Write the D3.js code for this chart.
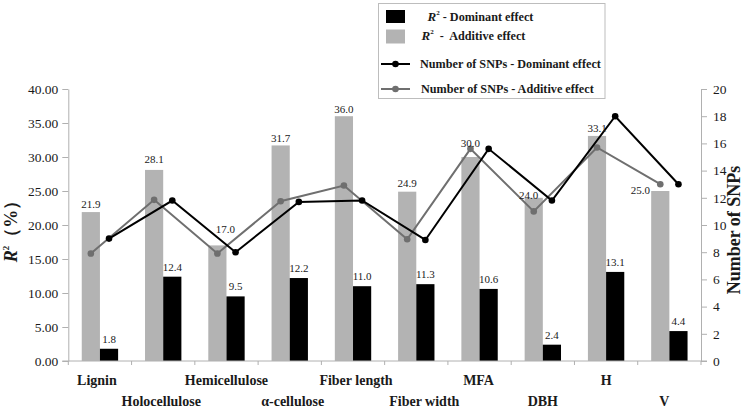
<!DOCTYPE html>
<html>
<head>
<meta charset="utf-8">
<script src="https://cdn.jsdelivr.net/npm/d3@7"></script>
<style>
  html, body { margin: 0; padding: 0; background: #fff; }
</style>
</head>
<body>
<svg id="chart" width="750" height="410"></svg>
<script>
const categories = ["Lignin", "Holocellulose", "Hemicellulose", "α-cellulose", "Fiber length", "Fiber width", "MFA", "DBH", "H", "V"];
const r2Dominant = [1.8, 12.4, 9.5, 12.2, 11.0, 11.3, 10.6, 2.4, 13.1, 4.4];
const r2Additive = [21.9, 28.1, 17.0, 31.7, 36.0, 24.9, 30.0, 24.0, 33.1, 25.0];
const snpDominant = [9.0, 11.8, 8.0, 11.7, 11.8, 8.9, 15.6, 11.8, 18.0, 13.0];
const snpAdditive = [7.9, 11.85, 7.9, 11.75, 12.9, 8.95, 15.6, 11.0, 15.7, 13.0];
const leftTicks = [0, 5, 10, 15, 20, 25, 30, 35, 40];
const rightTicks = [0, 2, 4, 6, 8, 10, 12, 14, 16, 18, 20];
const seriesNames = ["Dominant effect", "Additive effect"];

const FONT = "'Liberation Serif', 'Tinos', 'Times New Roman', 'DejaVu Serif', serif";
const svg = d3.select("#chart").attr("font-family", FONT).style("font-family", FONT);
const X0 = 68.3, X1 = 701, Y0 = 361, Y1 = 89;
const AXIS = "#b0b0b0", TXT = "#1a1a1a";
const GREY_BAR = "#b3b3b3", GREY_LINE = "#6f6f6f";

const x = d3.scaleBand().domain(categories).range([X0, X1]).padding(0);
const sub = d3.scaleBand().domain(["add", "dom"]).range([0, x.bandwidth()]).paddingInner(0).paddingOuter(0.74);
const yL = d3.scaleLinear().domain([0, 40]).range([Y0, Y1]);
const yR = d3.scaleLinear().domain([0, 20]).range([Y0, Y1]);

// bars
const g = svg.append("g");
g.selectAll("rect.add").data(categories).join("rect")
  .attr("x", d => x(d) + sub("add")).attr("width", sub.bandwidth())
  .attr("y", (d, i) => yL(r2Additive[i])).attr("height", (d, i) => Y0 - yL(r2Additive[i]))
  .attr("fill", GREY_BAR);
g.selectAll("rect.dom").data(categories).join("rect")
  .attr("x", d => x(d) + sub("dom")).attr("width", sub.bandwidth())
  .attr("y", (d, i) => yL(r2Dominant[i])).attr("height", (d, i) => Y0 - yL(r2Dominant[i]))
  .attr("fill", "#000");

// axes
function styleAxis(sel) {
  sel.attr("font-family", FONT);
  sel.selectAll("path, line").attr("stroke", AXIS);
  sel.selectAll("text").attr("fill", TXT).style("font-size", "13.5px").style("font-family", FONT);
}
svg.append("g").attr("transform", `translate(${X0},0)`)
  .call(d3.axisLeft(yL).tickValues(leftTicks).tickFormat(d3.format(".2f")).tickSize(6).tickSizeOuter(0).tickPadding(4))
  .call(styleAxis);
svg.append("g").attr("transform", `translate(${X1},0)`)
  .call(d3.axisRight(yR).tickValues(rightTicks).tickSize(6).tickSizeOuter(0).tickPadding(6))
  .call(styleAxis);

// x axis baseline with category boundary ticks
const xa = svg.append("g");
xa.append("line").attr("x1", X0 - 6).attr("x2", X1 + 6).attr("y1", Y0).attr("y2", Y0).attr("stroke", AXIS);
const bounds = categories.map(c => x(c)).concat([X1]);
xa.selectAll("line.tk").data(bounds).join("line")
  .attr("x1", d => d).attr("x2", d => d).attr("y1", Y0).attr("y2", Y0 + 4).attr("stroke", AXIS);

// category labels (staggered rows)
const catNudge = [-3, -2, 0, 3, 3, 8, -1, 0, 0, -5];
svg.append("g").selectAll("text").data(categories).join("text")
  .attr("x", (d, i) => x(d) + x.bandwidth() / 2 + catNudge[i])
  .attr("y", (d, i) => (i % 2 === 0 ? 385 : 406))
  .attr("text-anchor", "middle").attr("fill", TXT)
  .style("font-size", "14px").style("font-weight", "bold").style("font-family", FONT)
  .text(d => d);

// lines
const cxAdd = i => x(categories[i]) + sub("add") + sub.bandwidth() / 2;
const cxDom = i => x(categories[i]) + sub("dom") + sub.bandwidth() / 2;
const lineAdd = d3.line().x((d, i) => cxAdd(i)).y(d => yR(d));
const lineDom = d3.line().x((d, i) => cxDom(i)).y(d => yR(d));
svg.append("path").attr("d", lineAdd(snpAdditive)).attr("fill", "none").attr("stroke", GREY_LINE).attr("stroke-width", 2);
svg.append("g").selectAll("circle").data(snpAdditive).join("circle")
  .attr("cx", (d, i) => cxAdd(i)).attr("cy", d => yR(d)).attr("r", 3.3).attr("fill", GREY_LINE);
svg.append("path").attr("d", lineDom(snpDominant)).attr("fill", "none").attr("stroke", "#000").attr("stroke-width", 2);
svg.append("g").selectAll("circle").data(snpDominant).join("circle")
  .attr("cx", (d, i) => cxDom(i)).attr("cy", d => yR(d)).attr("r", 3.3).attr("fill", "#000");

// value labels
const addNudge = [[0, -4], [0, -7], [8, -12], [0, -3.5], [0, -3.5], [0, -4.5], [0, -10.5], [-5, 1], [0, -4], [-20, 2.5]];
svg.append("g").selectAll("text").data(r2Additive).join("text")
  .attr("x", (d, i) => cxAdd(i) + addNudge[i][0])
  .attr("y", (d, i) => yL(d) + addNudge[i][1])
  .attr("text-anchor", "middle").attr("fill", TXT).style("font-size", "11px").style("font-family", FONT)
  .text(d => d.toFixed(1));
svg.append("g").selectAll("text").data(r2Dominant).join("text")
  .attr("x", (d, i) => cxDom(i))
  .attr("y", d => yL(d) - 6)
  .attr("text-anchor", "middle").attr("fill", TXT).style("font-size", "11px").style("font-family", FONT)
  .text(d => d.toFixed(1));

// axis titles
const lt = svg.append("text").attr("transform", "translate(17,227) rotate(-90)")
  .attr("text-anchor", "middle").attr("fill", TXT)
  .style("font-size", "18px").style("font-weight", "bold").style("font-family", FONT);
lt.append("tspan").style("font-style", "italic").text("R");
lt.append("tspan").attr("dy", -8).style("font-size", "9px").text("2");
lt.append("tspan").attr("dy", 8).text("（%）");

svg.append("text").attr("transform", "translate(740,230) rotate(-90)")
  .attr("text-anchor", "middle").attr("fill", TXT)
  .style("font-size", "18px").style("font-weight", "bold").style("font-family", FONT)
  .text("Number of SNPs");

// legend
const lg = svg.append("g");
lg.append("rect").attr("x", 378.5).attr("y", 3.5).attr("width", 226.5).attr("height", 95)
  .attr("fill", "#fff").attr("stroke", "#bdbdbd");
lg.append("rect").attr("x", 386).attr("y", 10).attr("width", 19).attr("height", 13).attr("fill", "#000");
lg.append("rect").attr("x", 386).attr("y", 29.5).attr("width", 19).attr("height", 14).attr("fill", GREY_BAR);
function r2Label(xp, yp, sep, name) {
  const t = lg.append("text").attr("x", xp).attr("y", yp).attr("fill", TXT)
    .style("font-size", "12.2px").style("font-weight", "bold").style("font-family", FONT)
    .style("white-space", "pre");
  t.append("tspan").style("font-style", "italic").style("font-size", "13px").text("R");
  t.append("tspan").attr("dy", -6).style("font-size", "7px").text("2");
  t.append("tspan").attr("dy", 6).text(sep + name);
}
r2Label(427.5, 21, " - ", seriesNames[0]);
r2Label(421.5, 40, "  -  ", seriesNames[1]);
lg.append("line").attr("x1", 381).attr("x2", 410).attr("y1", 64).attr("y2", 64).attr("stroke", "#000").attr("stroke-width", 2);
lg.append("circle").attr("cx", 395.5).attr("cy", 64).attr("r", 3.3).attr("fill", "#000");
lg.append("line").attr("x1", 381).attr("x2", 410).attr("y1", 89).attr("y2", 89).attr("stroke", GREY_LINE).attr("stroke-width", 2);
lg.append("circle").attr("cx", 395.5).attr("cy", 89).attr("r", 3.3).attr("fill", GREY_LINE);
lg.append("text").attr("x", 420).attr("y", 68).attr("fill", TXT)
  .style("font-size", "12.2px").style("font-weight", "bold").style("font-family", FONT)
  .text("Number of SNPs - " + seriesNames[0]);
lg.append("text").attr("x", 421).attr("y", 93).attr("fill", TXT)
  .style("font-size", "12.2px").style("font-weight", "bold").style("font-family", FONT)
  .text("Number of SNPs - " + seriesNames[1]);
</script>
</body>
</html>
